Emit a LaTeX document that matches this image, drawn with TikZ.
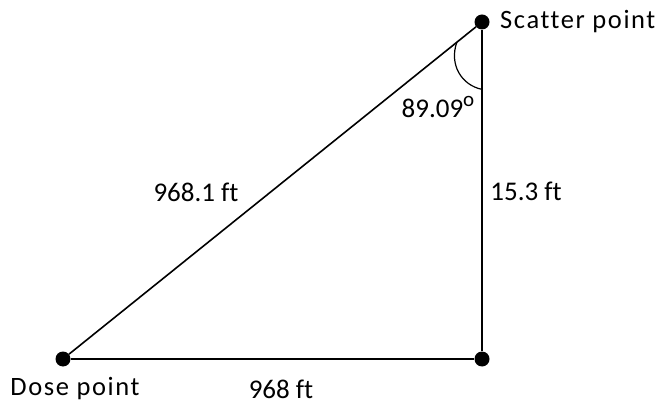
\documentclass[tikz,border=0pt]{standalone}
\usepackage{fontspec}
\setmainfont{Carlito}[Ligatures={NoCommon}]
\newfontfamily\labelfont[LetterSpace=6,Ligatures={NoCommon}]{Carlito}
\usetikzlibrary{calc}
\tikzset{
  dot/.style={circle,fill=black,inner sep=0pt,minimum size=15pt},
  leg/.style={line width=2.4pt},
  hyp/.style={line width=1.6pt},
  lbl/.style={font=\fontsize{27}{31}\selectfont,inner sep=0pt},
  namelbl/.style={font=\fontsize{26.5}{30}\selectfont\labelfont,inner sep=0pt}
}
\begin{document}
\begin{tikzpicture}[x=1pt,y=1pt]
\useasboundingbox (0,0) rectangle (660,404);
\node[dot] (D) at (63,45) {};
\node[dot] (C) at (482,45) {};
\node[dot] (S) at (482,382) {};
\draw[leg] (D) -- (C);
\draw[leg] (C) -- (S);
\draw[hyp] (D) -- (S);
\coordinate (A1) at ($(S.center)!0.06!(D.center)$);
\coordinate (A2) at ($(S.center)!0.2!(C.center)$);
\draw[line width=1.2pt] (A1) .. controls (449,340) and (461,319) .. (A2);
\node[namelbl,anchor=west] (ls) at (500,382) {Scatter point};
\node[namelbl] (ld) at (75,15) {Dose point};
\node[lbl] (lb) at (281,15) {968 ft};
\node[lbl] (lh) at (196,212) {968.1 ft};
\node[lbl] (lv) at (526,213) {15.3 ft};
\node[lbl] (la) at (438,297) {89.09\raisebox{0.42em}{\fontsize{21}{21}\selectfont o}};
\end{tikzpicture}
\end{document}
